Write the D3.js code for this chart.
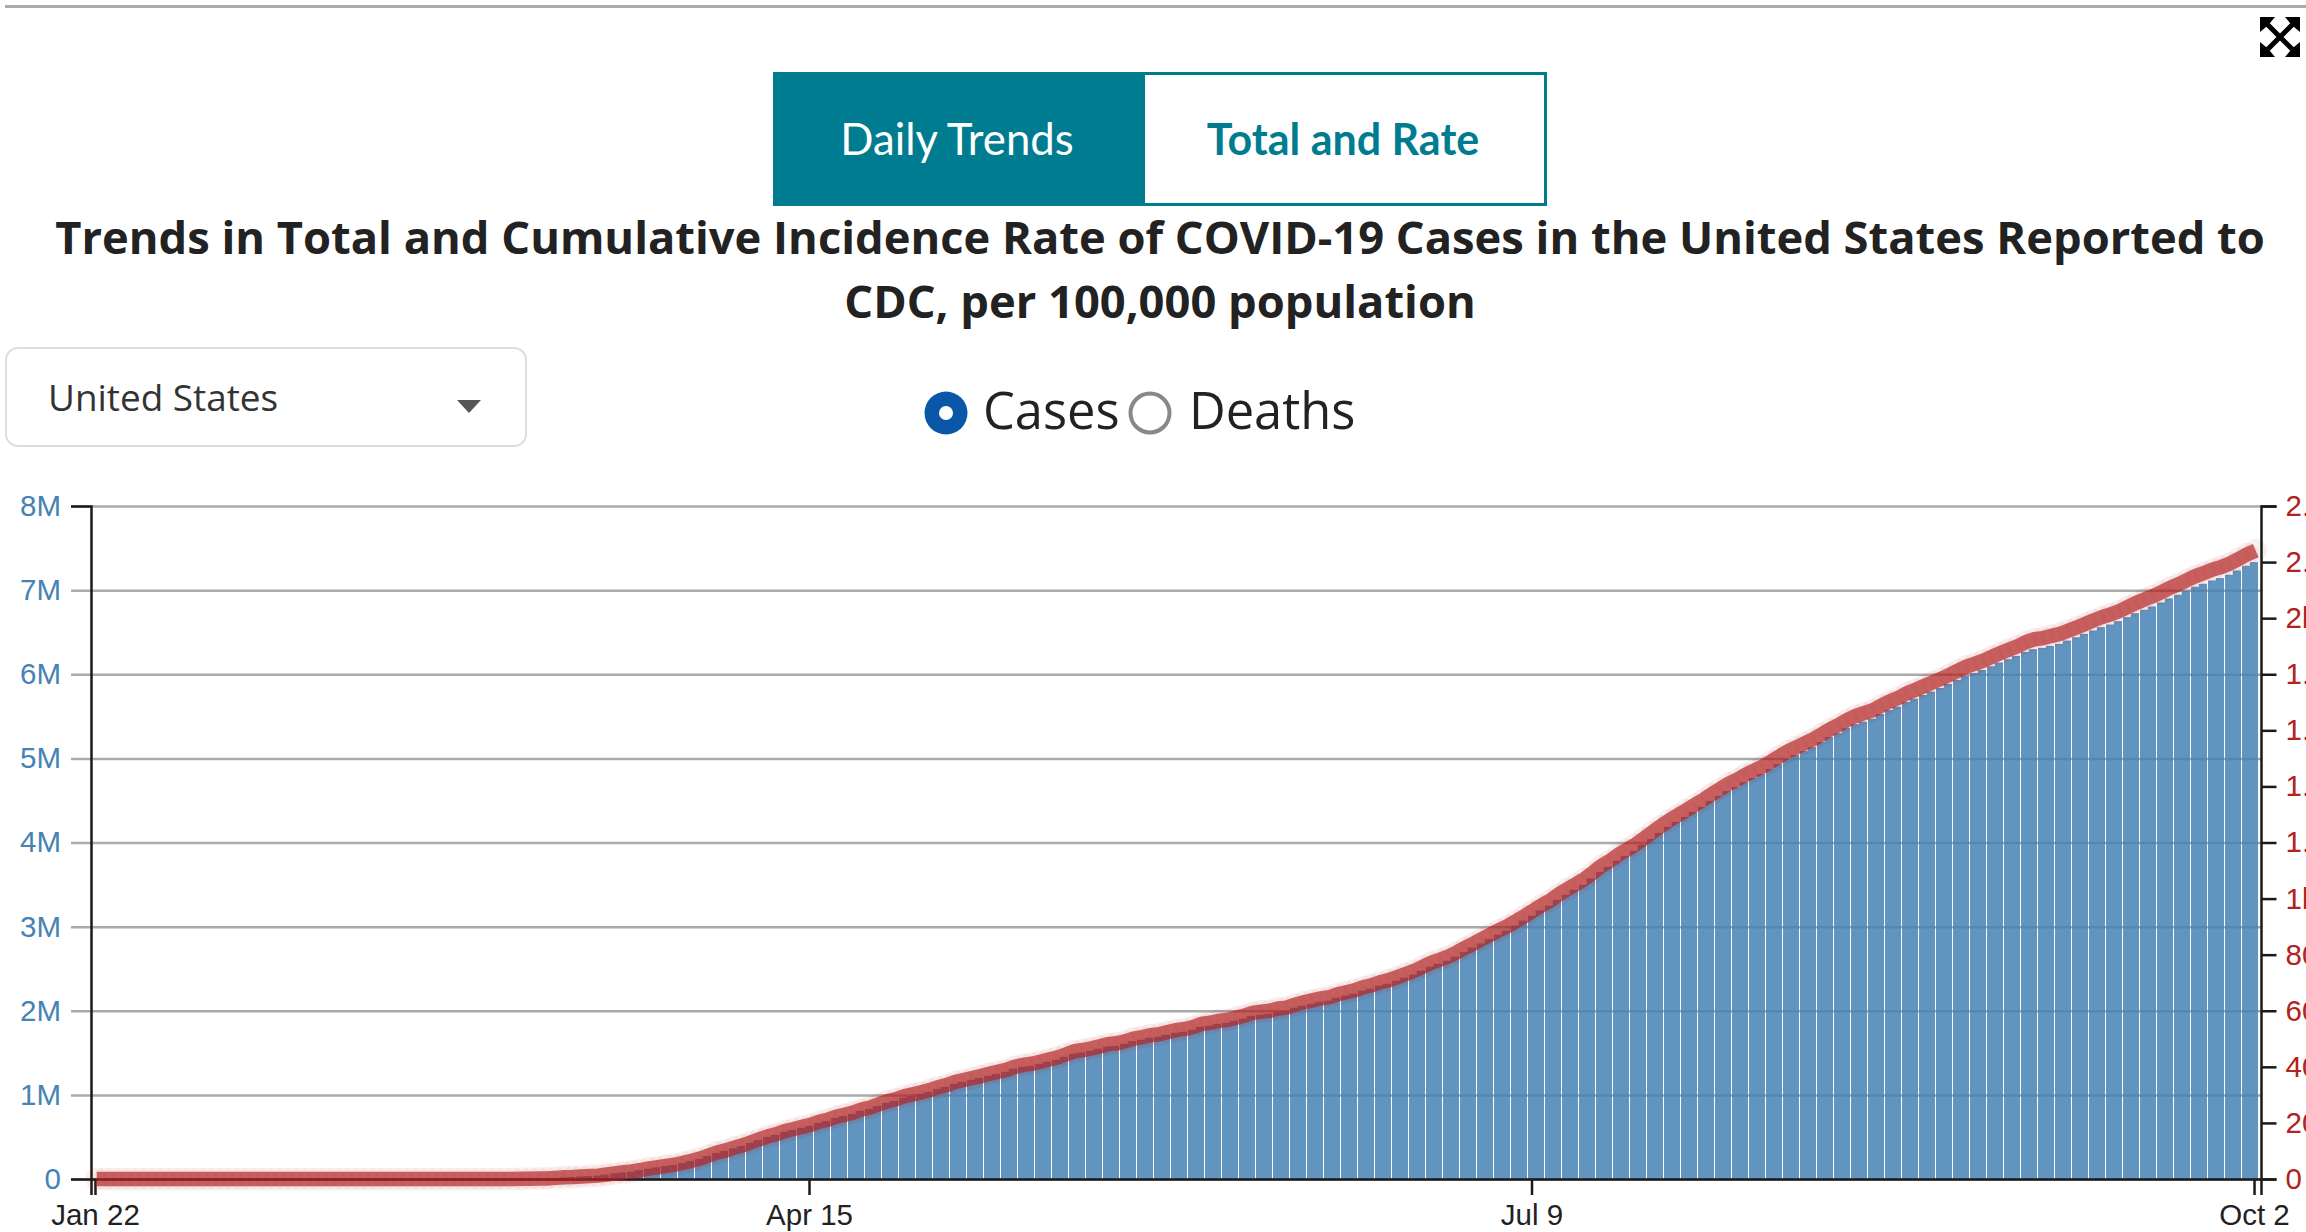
<!DOCTYPE html>
<html>
<head>
<meta charset="utf-8">
<title>Trends in Total and Cumulative Incidence Rate</title>
<script src="https://cdn.jsdelivr.net/npm/d3@7"></script>
<style>
  html, body { margin: 0; padding: 0; background: #fff; overflow: hidden; }
</style>
</head>
<body>
<div id="chart"></div>
<script>
// total cases in millions, one value per day starting Jan 22
const casesM = [
  0,0,0,0,0,0,0,0,0,0, 0,0,0,0,0,0,0,0,0,0,
  0,0,0,0,0,0,0,0,0,0, 0,0,0,0,0,0,0,0,0,
  .0001,.0001,.0001,.0001,.0002,.0002,.0003,.0005,.0007,.001,.0013,.002,.003,.005,.008,.012,.018,.024,.03,.035,.04,
  .052,.067,.077,.087,.105,.123,.138,.155,.167,.19,.214,.238,.274,.31,.333,.365,.393,.429,.464,.5,
  .524,.56,.583,.607,.631,.667,.69,.726,.75,.774,.81,.833,.869,.905,.929,.965,.988,1.012,1.036,1.071,
  1.095,1.131,1.155,1.179,1.202,1.226,1.25,1.274,1.31,1.333,1.345,1.369,1.393,1.417,1.452,1.488,1.504,1.524,1.548,1.575,
  1.583,1.607,1.639,1.655,1.679,1.69,1.714,1.738,1.75,1.774,1.81,1.821,1.845,1.857,1.881,1.905,1.94,1.952,1.964,1.988,
  2,2.036,2.06,2.083,2.107,2.119,2.155,2.179,2.202,2.238,2.262,2.298,2.321,2.357,2.393,2.429,2.476,2.524,2.56,2.595,
  2.643,2.7,2.75,2.8,2.854,2.905,2.953,3.012,3.071,3.13,3.194,3.249,3.32,3.379,3.439,3.498,3.573,3.652,3.711,3.783,
  3.842,3.901,3.972,4.043,4.115,4.186,4.245,4.304,4.364,4.423,4.494,4.553,4.613,4.66,4.719,4.767,4.814,4.874,4.933,4.992,
  5.04,5.087,5.134,5.194,5.253,5.3,5.36,5.407,5.437,5.472,5.528,5.575,5.615,5.67,5.71,5.754,5.794,5.837,5.885,5.933,
  5.98,6.016,6.052,6.095,6.139,6.179,6.218,6.266,6.298,6.313,6.337,6.361,6.4,6.44,6.48,6.52,6.56,6.591,6.631,6.679,
  6.726,6.766,6.806,6.853,6.901,6.944,6.992,7.04,7.075,7.115,7.143,7.183,7.234,7.29,7.333
];
// cumulative rate per 100,000, right axis
const ratePer100k = [
  0,0,0,0,0,0,0,0,0,0, 0,0,0,0,0,0,0,0,0,0,
  0,0,0,0,0,0,0,0,0,0, 0,0,0,0,0,0,0,0,0,
  0,0,0,0,0,0,0,0,0,0,0,1,1,2,2,4,6,7,9,11,12,
  16,20,24,27,32,38,42,47,51,58,65,73,84,95,102,112,120,131,142,153,
  160,171,178,186,193,204,211,222,229,237,248,255,266,277,284,295,302,309,317,327,
  335,346,353,360,367,375,382,389,400,407,411,418,426,433,444,455,460,466,473,481,
  484,491,501,506,513,516,524,531,535,542,553,557,564,567,575,582,593,597,600,608,
  611,622,630,637,644,648,659,666,673,684,691,702,709,720,731,742,757,771,782,793,
  808,825,840,856,872,888,902,920,938,957,976,993,1015,1033,1051,1069,1092,1116,1134,1156,
  1174,1192,1214,1236,1258,1279,1297,1315,1334,1352,1373,1391,1410,1424,1442,1457,1471,1489,1508,1526,
  1540,1555,1569,1587,1605,1620,1638,1652,1662,1672,1689,1704,1716,1733,1745,1758,1771,1784,1798,1813,
  1828,1838,1849,1863,1876,1888,1900,1915,1925,1929,1937,1944,1956,1968,1980,1993,2005,2014,2026,2041,
  2055,2068,2080,2094,2109,2122,2137,2151,2162,2174,2183,2195,2211,2228,2241
];
const tickDays = [0, 84, 169, 254];
const tickLabels = ["Jan 22", "Apr 15", "Jul 9", "Oct 2"];
const leftTicks = [0, 1, 2, 3, 4, 5, 6, 7, 8];
const rightTicks = [0, 200, 400, 600, 800, 1000, 1200, 1400, 1600, 1800, 2000, 2200, 2400];
const titleLines = [
  "Trends in Total and Cumulative Incidence Rate of COVID-19 Cases in the United States Reported to",
  "CDC, per 100,000 population"
];

const width = 2306;
const height = 1232;
const margin = { top: 506, right: 45, bottom: 53, left: 91 };
const iW = width - margin.left - margin.right;
const iH = height - margin.top - margin.bottom;
const teal = "#007c91";
const uiFont = "'Open Sans', sans-serif";
const axisFont = "'Liberation Sans', Arial, sans-serif";

const root = d3.select("#chart").append("svg")
  .attr("width", width)
  .attr("height", height)
  .style("display", "block");

// page chrome above the chart
root.append("rect").attr("x", 5).attr("y", 5).attr("width", width - 5).attr("height", 3).style("fill", "#aaa");

root.append("path")
  .attr("d", "M2266,23L2294,51M2294,23L2266,51")
  .style("stroke", "#000").style("stroke-width", 5).style("fill", "none");
root.append("path")
  .attr("d", "M2260,17h15l-5,6l-4,4l-6,5zM2300,17h-15l5,6l4,4l6,5zM2260,57h15l-5,-6l-4,-4l-6,-5zM2300,57h-15l5,-6l4,-4l6,-5z")
  .style("fill", "#000");

root.append("rect").attr("x", 773).attr("y", 72).attr("width", 372).attr("height", 134).style("fill", teal);
root.append("rect").attr("x", 1143.5).attr("y", 73.5).attr("width", 402).attr("height", 131)
  .style("fill", "#fff").style("stroke", teal).style("stroke-width", 3);
root.append("text").attr("x", 957).attr("y", 155).attr("text-anchor", "middle")
  .style("font-family", "Lato, sans-serif").style("font-size", "43.7px").style("fill", "#fff").text("Daily Trends");
root.append("text").attr("x", 1343).attr("y", 155).attr("text-anchor", "middle")
  .style("font-family", "Lato, sans-serif").style("font-size", "43px").style("font-weight", "bold").style("fill", teal).text("Total and Rate");

root.selectAll("text.title")
  .data(titleLines)
  .join("text")
  .attr("class", "title")
  .attr("x", 1160)
  .attr("y", (d, i) => 254 + i * 64)
  .attr("text-anchor", "middle")
  .style("font-family", uiFont)
  .style("font-size", "45.3px")
  .style("font-weight", "bold")
  .style("fill", "#222")
  .text(d => d);

root.append("rect").attr("x", 6).attr("y", 348).attr("width", 520).attr("height", 98).attr("rx", 12)
  .style("fill", "#fff").style("stroke", "#ddd").style("stroke-width", 2);
root.append("text").attr("x", 48).attr("y", 411)
  .style("font-family", uiFont).style("font-size", "36.9px").style("fill", "#333").text("United States");
root.append("path").attr("d", "M457,400H481L469,413Z").style("fill", "#555");

root.append("circle").attr("cx", 946).attr("cy", 413).attr("r", 21.5).style("fill", "#0a57a8");
root.append("circle").attr("cx", 946).attr("cy", 413).attr("r", 7).style("fill", "#fff");
root.append("text").attr("x", 983).attr("y", 429)
  .style("font-family", uiFont).style("font-size", "50.6px").style("fill", "#222").text("Cases");
root.append("circle").attr("cx", 1150).attr("cy", 413).attr("r", 19.5)
  .style("fill", "#fff").style("stroke", "#888").style("stroke-width", 4);
root.append("text").attr("x", 1189).attr("y", 429)
  .style("font-family", uiFont).style("font-size", "50.6px").style("fill", "#222").text("Deaths");

// chart
const svg = root.append("g").attr("transform", `translate(${margin.left},${margin.top})`);

const x = d3.scaleLinear().domain([-0.47, 254.82]).range([0, iW]);
const y = d3.scaleLinear().domain([0, 8]).range([iH, 0]);
const yRate = d3.scaleLinear().domain([0, 2400]).range([iH, 0]);
const step = x(1) - x(0);

const leftAxis = svg.append("g")
  .call(d3.axisLeft(y).tickValues(leftTicks).tickSize(20).tickPadding(10).tickFormat(d => d === 0 ? "0" : d + "M"));
leftAxis.selectAll(".tick line").attr("x1", iW).style("stroke", "#aaa").style("stroke-width", 2.5);
leftAxis.selectAll("text").style("fill", "#4682b4").style("font-family", axisFont).style("font-size", "29.5px");
leftAxis.select(".domain").style("stroke", "#1a1a1a").style("stroke-width", 2.5).raise();

// two neighbouring days read as one bar, the white gap falls every second day
svg.append("g")
  .style("opacity", 0.85)
  .selectAll("rect")
  .data(casesM)
  .join("rect")
  .attr("x", (d, i) => x(i) - step / 2 + (i % 2 ? 0.75 : 0))
  .attr("y", d => y(d))
  .attr("width", (d, i) => i % 2 ? step + 0.25 : step - 0.25)
  .attr("height", d => iH - y(d))
  .style("fill", "#4682b4");

const bottomAxis = svg.append("g")
  .attr("transform", `translate(0,${iH})`)
  .call(d3.axisBottom(x).tickValues(tickDays).tickSize(16).tickPadding(9).tickFormat((d, i) => tickLabels[i]));
bottomAxis.selectAll("line").style("stroke", "#1a1a1a").style("stroke-width", 2.5);
bottomAxis.select(".domain").style("stroke", "#1a1a1a").style("stroke-width", 2.5);
bottomAxis.selectAll("text").style("fill", "#222").style("font-family", axisFont).style("font-size", "29.5px");

// rate line and its pale dots, sits a little to the right of the bars
const lineX = (d, i) => x(i) + 1.7;
svg.append("g")
  .selectAll("circle")
  .data(ratePer100k)
  .join("circle")
  .attr("cx", lineX)
  .attr("cy", d => yRate(d))
  .attr("r", 11.5)
  .style("fill", "#b22222")
  .style("opacity", 0.07);

svg.append("path")
  .datum(ratePer100k)
  .attr("d", d3.line().x(lineX).y(d => yRate(d)))
  .style("fill", "none")
  .style("stroke", "#b22222")
  .style("stroke-width", 14.5)
  .style("opacity", 0.68);

const rightAxis = svg.append("g")
  .attr("transform", `translate(${iW},0)`)
  .call(d3.axisRight(yRate).tickValues(rightTicks).tickSize(15.5).tickPadding(9)
    .tickFormat(d => d >= 1000 ? (d / 1000) + "k" : d));
rightAxis.selectAll("line").style("stroke", "#1a1a1a").style("stroke-width", 2.5);
rightAxis.select(".domain").style("stroke", "#1a1a1a").style("stroke-width", 2.5);
rightAxis.selectAll("text").style("fill", "#b22222").style("font-family", axisFont).style("font-size", "29.5px");
</script>
</body>
</html>
